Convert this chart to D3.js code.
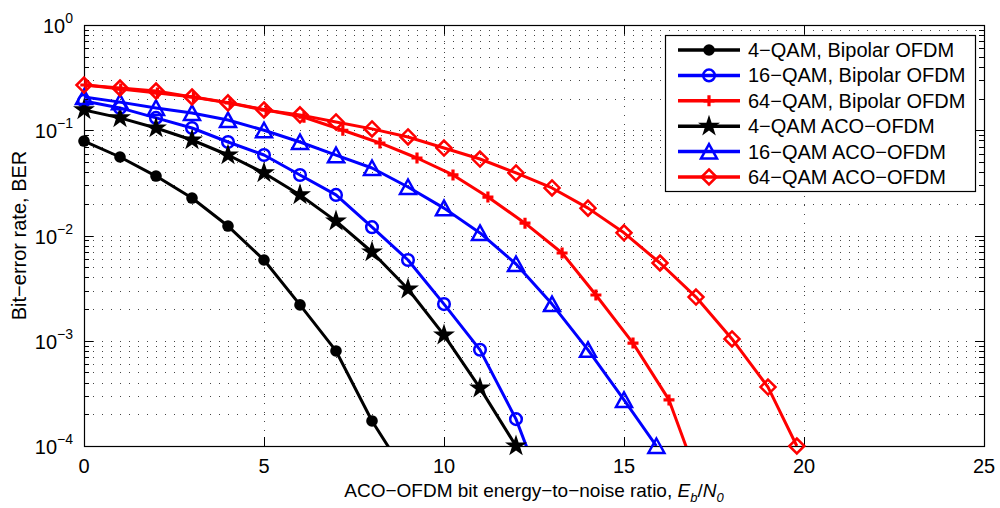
<!DOCTYPE html>
<html>
<head>
<meta charset="utf-8">
<script src="https://cdn.jsdelivr.net/npm/d3@7"></script>
<style>
  html, body { margin: 0; padding: 0; background: #fff; }
  #chart { width: 1000px; height: 508px; }
  text { font-family: "Liberation Sans", Arial, Helvetica, sans-serif; fill: #000; }
</style>
</head>
<body>
<div id="chart"></div>
<script>
// ---- data (BER vs Eb/N0 in dB) ----
const seriesNames = [
  '4\u2212QAM, Bipolar OFDM',
  '16\u2212QAM, Bipolar OFDM',
  '64\u2212QAM, Bipolar OFDM',
  '4\u2212QAM ACO\u2212OFDM',
  '16\u2212QAM ACO\u2212OFDM',
  '64\u2212QAM ACO\u2212OFDM'
];

const qam4BipolarX = [0, 1, 2, 3, 4, 5, 6, 7, 8, 9];
const qam4BipolarBer = [0.079, 0.0557, 0.0367, 0.0227, 0.0123, 0.00585, 0.00219, 0.0008, 0.000173, 0.00005];

const qam16BipolarX = [0, 1, 2, 3, 4, 5, 6, 7, 8, 9, 10, 11, 12, 13];
const qam16BipolarBer = [0.19, 0.163, 0.131, 0.105, 0.0773, 0.0582, 0.0376, 0.0243, 0.012, 0.00585, 0.00223, 0.00082, 0.00018, 0.000023];

const qam64BipolarX = [0.05, 1.02, 2.04, 3.04, 4.06, 5.06, 6.11, 7.19, 8.22, 9.25, 10.25, 11.22, 12.25, 13.28, 14.22, 15.25, 16.25, 17.25];
const qam64BipolarBer = [0.269, 0.246, 0.226, 0.207, 0.182, 0.156, 0.133, 0.1, 0.0757, 0.0545, 0.0376, 0.0232, 0.0131, 0.00682, 0.00272, 0.00095, 0.000274, 0.000032];

const qam4AcoX = [0, 1, 2, 3, 4, 5, 6, 7, 8, 9, 10, 11, 12];
const qam4AcoBer = [0.156, 0.131, 0.105, 0.0808, 0.0582, 0.0393, 0.0243, 0.0137, 0.00697, 0.0031, 0.00113, 0.000355, 0.0001];

const qam16AcoX = [0, 1, 2, 3, 4, 5, 6, 7, 8, 9, 10, 11, 12, 13, 14, 15, 15.9];
const qam16AcoBer = [0.207, 0.185, 0.163, 0.146, 0.125, 0.1, 0.0773, 0.058, 0.0438, 0.0289, 0.0182, 0.01057, 0.00536, 0.00223, 0.00082, 0.000274, 0.0001];

const qam64AcoX = [0, 1, 2, 3, 4, 5, 6, 7, 8, 9, 10, 11, 12, 13, 14, 15, 16, 17, 18, 19, 19.8];
const qam64AcoBer = [0.269, 0.252, 0.236, 0.207, 0.182, 0.156, 0.14, 0.12, 0.103, 0.0863, 0.0678, 0.0533, 0.0393, 0.0283, 0.0182, 0.0106, 0.00548, 0.0026, 0.00104, 0.000363, 0.0001];

const seriesColors = ['#000000', '#0000ff', '#ff0000', '#000000', '#0000ff', '#ff0000'];
const seriesMarkers = ['dot', 'circle', 'plus', 'star', 'triangle', 'diamond'];

const xTickValues = [0, 5, 10, 15, 20, 25];
const yDecadeExponents = [0, -1, -2, -3, -4];

/**
 * BER chart in the style of a MATLAB semilogy figure
 */
class BerChart {
  constructor(containerId) {
    this.container = document.getElementById(containerId);
    this.margin = { top: 25, right: 16, bottom: 62, left: 84 };
    this.width = 1000 - this.margin.left - this.margin.right;
    this.height = 508 - this.margin.top - this.margin.bottom;

    this.series = [
      { x: qam4BipolarX, y: qam4BipolarBer },
      { x: qam16BipolarX, y: qam16BipolarBer },
      { x: qam64BipolarX, y: qam64BipolarBer },
      { x: qam4AcoX, y: qam4AcoBer },
      { x: qam16AcoX, y: qam16AcoBer },
      { x: qam64AcoX, y: qam64AcoBer }
    ].map((s, i) => ({
      name: seriesNames[i],
      color: seriesColors[i],
      marker: seriesMarkers[i],
      points: s.x.map((x, j) => ({ x, y: s.y[j] }))
    }));

    this._initChart();
    this._renderGrid();
    this._renderAxes();
    this._renderSeries();
    this._renderLegend();
  }

  _initChart() {
    this.svg = d3.select(this.container)
      .append('svg')
      .attr('width', 1000)
      .attr('height', 508);

    this.g = this.svg.append('g')
      .attr('transform', `translate(${this.margin.left},${this.margin.top})`);

    this.xScale = d3.scaleLinear().domain([0, 25]).range([0, this.width]);
    this.yScale = d3.scaleLog().domain([1e-4, 1]).range([this.height, 0]);

    this.svg.append('defs').append('clipPath')
      .attr('id', 'plot-clip')
      .append('rect')
      .attr('width', this.width)
      .attr('height', this.height);
  }

  /**
   * Dotted major/minor grid
   * @private
   */
  _renderGrid() {
    const grid = this.g.append('g').attr('class', 'grid');
    const minorYs = [];
    yDecadeExponents.forEach(e => {
      if (e === 0) return;
      for (let k = 1; k <= 9; k++) minorYs.push(k * Math.pow(10, e));
    });

    grid.selectAll('.hgrid')
      .data(minorYs.filter(v => v > 1e-4))
      .enter().append('line')
      .attr('x1', 0).attr('x2', this.width)
      .attr('y1', d => Math.round(this.yScale(d)) + 0.5)
      .attr('y2', d => Math.round(this.yScale(d)) + 0.5)
      .attr('stroke', '#444')
      .attr('stroke-width', 1)
      .attr('stroke-dasharray', '1,8');

    grid.selectAll('.vgrid')
      .data(xTickValues.slice(1, -1))
      .enter().append('line')
      .attr('x1', d => Math.round(this.xScale(d)) + 0.5)
      .attr('x2', d => Math.round(this.xScale(d)) + 0.5)
      .attr('y1', 0).attr('y2', this.height)
      .attr('stroke', '#444')
      .attr('stroke-width', 1)
      .attr('stroke-dasharray', '1,8');
  }

  /**
   * Box, inward ticks and labels
   * @private
   */
  _renderAxes() {
    const w = this.width, h = this.height;
    const axes = this.g.append('g').attr('class', 'axes');

    const majorLen = 9, minorLen = 5;

    // x ticks bottom and top
    xTickValues.forEach(v => {
      const x = Math.round(this.xScale(v)) + 0.5;
      axes.append('line').attr('x1', x).attr('x2', x).attr('y1', h).attr('y2', h - majorLen).attr('stroke', '#000');
      axes.append('line').attr('x1', x).attr('x2', x).attr('y1', 0).attr('y2', majorLen).attr('stroke', '#000');
    });

    // y ticks left and right
    yDecadeExponents.forEach(e => {
      const y = Math.round(this.yScale(Math.pow(10, e))) + 0.5;
      axes.append('line').attr('x1', 0).attr('x2', majorLen).attr('y1', y).attr('y2', y).attr('stroke', '#000');
      axes.append('line').attr('x1', w).attr('x2', w - majorLen).attr('y1', y).attr('y2', y).attr('stroke', '#000');
      if (e === 0) return;
      for (let k = 2; k <= 9; k++) {
        const ym = Math.round(this.yScale(k * Math.pow(10, e))) + 0.5;
        axes.append('line').attr('x1', 0).attr('x2', minorLen).attr('y1', ym).attr('y2', ym).attr('stroke', '#000');
        axes.append('line').attr('x1', w).attr('x2', w - minorLen).attr('y1', ym).attr('y2', ym).attr('stroke', '#000');
      }
    });

    axes.append('rect')
      .attr('x', 0.5).attr('y', 0.5)
      .attr('width', w).attr('height', h)
      .attr('fill', 'none')
      .attr('stroke', '#000')
      .attr('stroke-width', 1.2);

    // x tick labels
    axes.selectAll('.xlabel')
      .data(xTickValues)
      .enter().append('text')
      .attr('x', d => this.xScale(d))
      .attr('y', h + 27)
      .attr('text-anchor', 'middle')
      .attr('font-size', '20px')
      .text(d => d);

    // y tick labels with superscript exponent
    yDecadeExponents.forEach(e => {
      const y = this.yScale(Math.pow(10, e));
      const t = axes.append('text')
        .attr('x', -11)
        .attr('y', y + 8)
        .attr('text-anchor', 'end')
        .attr('font-size', '20px');
      t.append('tspan').text('10');
      t.append('tspan')
        .attr('dy', -10)
        .attr('font-size', '14px')
        .text(e === 0 ? '0' : '\u2212' + Math.abs(e));
    });

    // x label
    const xl = axes.append('text')
      .attr('x', w / 2)
      .attr('y', h + 51)
      .attr('text-anchor', 'middle')
      .attr('font-size', '19px');
    xl.append('tspan').text('ACO\u2212OFDM bit energy\u2212to\u2212noise ratio, ');
    xl.append('tspan').attr('font-style', 'italic').text('E');
    xl.append('tspan').attr('font-style', 'italic').attr('font-size', '13px').attr('dy', 5).text('b');
    xl.append('tspan').attr('dy', -5).text('/');
    xl.append('tspan').attr('font-style', 'italic').text('N');
    xl.append('tspan').attr('font-style', 'italic').attr('font-size', '13px').attr('dy', 5).text('0');

    // y label
    axes.append('text')
      .attr('transform', `translate(${-this.margin.left + 26},${h / 2}) rotate(-90)`)
      .attr('text-anchor', 'middle')
      .attr('font-size', '20px')
      .text('Bit\u2212error rate, BER');
  }

  /**
   * Append one marker of the given kind at (0,0) of a group
   * @private
   */
  _drawMarker(sel, kind, color) {
    if (kind === 'dot') {
      sel.append('circle').attr('r', 5.8).attr('fill', color);
    } else if (kind === 'circle') {
      sel.append('circle').attr('r', 5.8).attr('fill', 'none')
        .attr('stroke', color).attr('stroke-width', 2.5);
    } else if (kind === 'plus') {
      sel.append('path').attr('d', 'M-5.5,0H5.5M0,-5.5V5.5')
        .attr('stroke', color).attr('stroke-width', 3.2).attr('fill', 'none');
    } else if (kind === 'star') {
      sel.append('path').attr('d', d3.symbol(d3.symbolStar, 150)())
        .attr('fill', color);
    } else if (kind === 'triangle') {
      sel.append('path').attr('d', 'M0,-7.5L8,7H-8Z')
        .attr('fill', 'none').attr('stroke', color).attr('stroke-width', 2.5)
        .attr('stroke-linejoin', 'miter');
    } else if (kind === 'diamond') {
      sel.append('path').attr('d', 'M0,-7.5L7.5,0L0,7.5L-7.5,0Z')
        .attr('fill', 'none').attr('stroke', color).attr('stroke-width', 2.5);
    }
  }

  _renderSeries() {
    const line = d3.line()
      .x(d => this.xScale(d.x))
      .y(d => this.yScale(d.y));

    const lines = this.g.append('g').attr('clip-path', 'url(#plot-clip)');
    const marks = this.g.append('g');

    this.series.forEach(s => {
      lines.append('path')
        .datum(s.points)
        .attr('d', line)
        .attr('fill', 'none')
        .attr('stroke', s.color)
        .attr('stroke-width', 3)
        .attr('stroke-linejoin', 'round');

      marks.selectAll(null)
        .data(s.points.filter(p => p.y >= 1e-4 * 0.999))
        .enter().append('g')
        .attr('transform', d => `translate(${this.xScale(d.x)},${this.yScale(d.y)})`)
        .each((d, i, nodes) => this._drawMarker(d3.select(nodes[i]), s.marker, s.color));
    });
  }

  _renderLegend() {
    const lg = this.svg.append('g').attr('class', 'legend');
    lg.append('rect')
      .attr('x', 665.5).attr('y', 35.5)
      .attr('width', 310).attr('height', 156)
      .attr('fill', '#fff')
      .attr('stroke', '#000')
      .attr('stroke-width', 1.2);

    this.series.forEach((s, i) => {
      const y = 50 + i * 25.4;
      lg.append('line')
        .attr('x1', 678).attr('x2', 740)
        .attr('y1', y).attr('y2', y)
        .attr('stroke', s.color).attr('stroke-width', 3.5);
      const m = lg.append('g').attr('transform', `translate(709,${y})`);
      this._drawMarker(m, s.marker, s.color);
      lg.append('text')
        .attr('x', 748).attr('y', y + 7)
        .attr('font-size', '20px')
        .text(s.name);
    });
  }
}

new BerChart('chart');
</script>
</body>
</html>
